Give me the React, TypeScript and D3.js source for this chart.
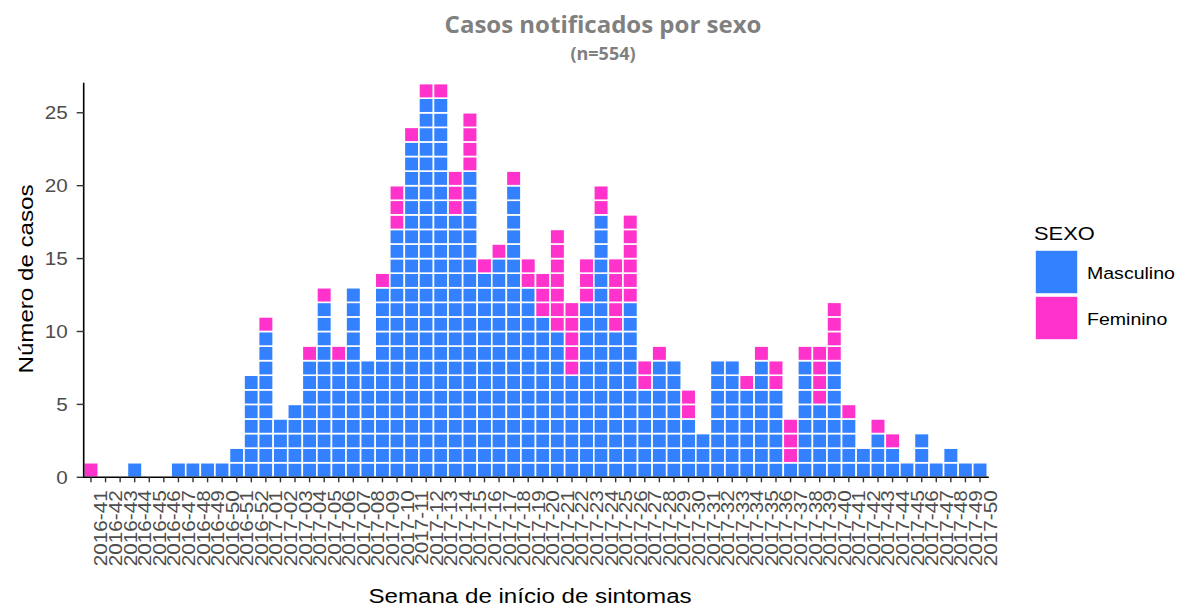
import React from 'react'
import * as d3 from 'd3'

// semana epidemiológica de início de sintomas
const weeks = [
  '2016-41', '2016-42', '2016-43', '2016-44', '2016-45', '2016-46', '2016-47', '2016-48',
  '2016-49', '2016-50', '2016-51', '2016-52', '2017-01', '2017-02', '2017-03', '2017-04',
  '2017-05', '2017-06', '2017-07', '2017-08', '2017-09', '2017-10', '2017-11', '2017-12',
  '2017-13', '2017-14', '2017-15', '2017-16', '2017-17', '2017-18', '2017-19', '2017-20',
  '2017-21', '2017-22', '2017-23', '2017-24', '2017-25', '2017-26', '2017-27', '2017-28',
  '2017-29', '2017-30', '2017-31', '2017-32', '2017-33', '2017-34', '2017-35', '2017-36',
  '2017-37', '2017-38', '2017-39', '2017-40', '2017-41', '2017-42', '2017-43', '2017-44',
  '2017-45', '2017-46', '2017-47', '2017-48', '2017-49', '2017-50',
]

const masculino = [
  0, 0, 0, 1, 0, 0, 1, 1, 1, 1, 2, 7, 10, 4, 5, 8,
  12, 8, 13, 8, 13, 17, 23, 26, 26, 18, 21, 14, 15, 20, 13, 11,
  10, 7, 12, 18, 10, 12, 6, 8, 8, 4, 3, 8, 8, 6,
  8, 6, 1, 8, 5, 8, 4, 2, 3, 2, 1, 3, 1, 2, 1, 1,
]

const feminino = [
  1, 0, 0, 0, 0, 0, 0, 0, 0, 0, 0, 0, 1, 0, 0, 1,
  1, 1, 0, 0, 1, 3, 1, 1, 1, 3, 4, 1, 1, 1, 2, 3,
  7, 5, 3, 2, 5, 6, 2, 1, 0, 2, 0, 0, 0, 1,
  1, 2, 3, 1, 4, 4, 1, 0, 1, 1, 0, 0, 0, 0, 0, 0,
]

const yTicks = [0, 5, 10, 15, 20, 25]
const sexos = ['Masculino', 'Feminino']
const colors = ['#3381ff', '#ff33cc']

const W = 1182
const H = 607
const STRETCH = 1.15
const FONT = '"Liberation Sans", Arial, sans-serif'

export default function App() {
  const x = d3.scaleBand<string>().domain(weeks).range([83.7, 987.3]).padding(0)
  const y = d3.scaleLinear().domain([0, 27]).range([477.3, 83.6])
  const color = d3.scaleOrdinal<string, string>().domain(sexos).range(colors)

  // one cell per case, stacked: masculino on the bottom
  const cells: { week: string; sexo: string; k: number }[] = []
  weeks.forEach((w, i) => {
    for (let k = 0; k < masculino[i]; k++) cells.push({ week: w, sexo: 'Masculino', k })
    for (let k = 0; k < feminino[i]; k++) cells.push({ week: w, sexo: 'Feminino', k: masculino[i] + k })
  })

  const x0 = x.range()[0]
  const x1 = x.range()[1]
  const yBase = y(0)

  return (
    <svg width={W} height={H} style={{ position: 'absolute', left: 0, top: 0, background: '#fff' }}>
      {/* title */}
      <text x={603} y={33} textAnchor="middle" fontFamily='"Open Sans", sans-serif'
        fontWeight={700} fontSize={24} fill="#808080">Casos notificados por sexo</text>
      <text x={603} y={60} textAnchor="middle" fontFamily='"Open Sans", sans-serif'
        fontWeight={700} fontSize={18} fill="#808080">(n=554)</text>

      {/* cells */}
      <g>
        {cells.map((c, i) => (
          <rect key={i}
            x={x(c.week)!}
            y={y(c.k + 1)}
            width={x.bandwidth()}
            height={y(c.k) - y(c.k + 1)}
            fill={color(c.sexo)}
            stroke="#fff"
            strokeWidth={1.6} />
        ))}
      </g>

      {/* y axis */}
      <line x1={x0} x2={x0} y1={y(27.05)} y2={yBase + 0.5} stroke="#000" strokeWidth={1.6} />
      {yTicks.map(t => (
        <g key={t}>
          <line x1={x0 - 7} x2={x0} y1={y(t)} y2={y(t)} stroke="#333" strokeWidth={1.4} />
          <g transform={`translate(${x0 - 16},${y(t) + 6.5}) scale(${STRETCH},1)`}>
            <text textAnchor="end" fontFamily={FONT} fontSize={18} fill="#4d4d4d">{t}</text>
          </g>
        </g>
      ))}

      {/* x axis */}
      <line x1={x0 - 0.5} x2={x1 + 1.5} y1={yBase} y2={yBase} stroke="#000" strokeWidth={1.6} />
      {weeks.map(w => {
        const cx = x(w)! + x.bandwidth() / 2
        return (
          <g key={w}>
            <line x1={cx} x2={cx} y1={yBase} y2={yBase + 5} stroke="#333" strokeWidth={1.4} />
            <g transform={`translate(${cx + 16.5},${yBase + 13}) rotate(-90) scale(${STRETCH},1)`}>
              <text textAnchor="end" fontFamily={FONT} fontSize={18} fill="#4d4d4d">{w}</text>
            </g>
          </g>
        )
      })}

      {/* axis titles */}
      <g transform={`translate(530,603) scale(${STRETCH},1)`}>
        <text textAnchor="middle" fontFamily={FONT} fontSize={21} fill="#000">Semana de início de sintomas</text>
      </g>
      <g transform={`translate(33,279) rotate(-90) scale(${STRETCH},1)`}>
        <text textAnchor="middle" fontFamily={FONT} fontSize={21} fill="#000">Número de casos</text>
      </g>

      {/* legend */}
      <g transform={`translate(1034,240) scale(${STRETCH},1)`}>
        <text fontFamily={FONT} fontSize={19} fill="#000">SEXO</text>
      </g>
      {sexos.map((s, i) => (
        <g key={s} transform={`translate(1035,${250 + i * 46})`}>
          <rect x={0} y={0} width={43} height={44} fill={color(s)} stroke="#fff" strokeWidth={1.6} />
          <g transform={`translate(52,${28.5}) scale(${STRETCH},1)`}>
            <text fontFamily={FONT} fontSize={17} fill="#000">{s}</text>
          </g>
        </g>
      ))}
    </svg>
  )
}
